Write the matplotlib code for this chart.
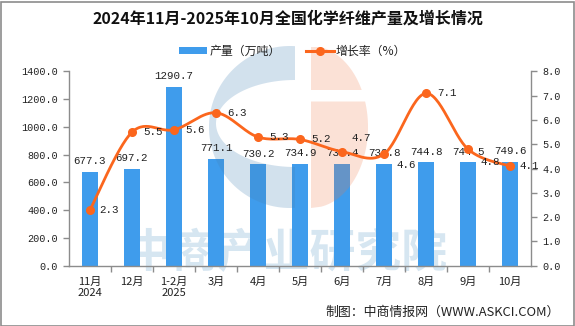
import numpy as np
import matplotlib
matplotlib.use("Agg")
import matplotlib.pyplot as plt
from matplotlib.patches import Polygon, Rectangle
from matplotlib.lines import Line2D
from matplotlib.ticker import FormatStrFormatter

plt.rcParams['font.family'] = ['Noto Sans CJK SC', 'DejaVu Sans']

# ---- data ----
months = ["11月\n2024", "12月", "1-2月\n2025", "3月", "4月", "5月",
          "6月", "7月", "8月", "9月", "10月"]
output_wt = [677.3, 697.2, 1290.7, 771.1, 730.2, 734.9, 736.4, 733.8, 744.8, 744.5, 749.6]
growth_pct = [2.3, 5.5, 5.6, 6.3, 5.3, 5.2, 4.7, 4.6, 7.1, 4.8, 4.1]

# label nudges for the growth-rate labels (points)
growth_label_offsets = [(7, 0), (8, 0), (8, 0), (8, 0), (8, 0), (8, 0),
                        (7, 10), (9, -8), (8, 0), (9, -9), (7, 0)]

W, H = 575, 326
BAR_C = "#3f9cec"
LINE_C = "#fb661d"
NUM_FONT = ['Liberation Mono', 'DejaVu Sans Mono']

fig = plt.figure(figsize=(W / 100, H / 100), dpi=100)
fig.patch.set_facecolor("white")

L, R, T, B = 69, 531, 71.5, 265.7
ax = fig.add_axes([L / W, 1 - B / H, (R - L) / W, (B - T) / H])
ax2 = ax.twinx()

x = np.arange(len(months))

# bars
ax.bar(x, output_wt, width=0.36, color=BAR_C, zorder=2)
for xi, v in zip(x, output_wt):
    ax.annotate(f"{v:.1f}", (xi, v), xytext=(0, 4), textcoords="offset points",
                ha="center", va="bottom", fontsize=7.8, family=NUM_FONT,
                color="#222222", zorder=5)

ax.set_xlim(-0.5, len(months) - 0.5)
ax.set_ylim(0, 1400)
ax.set_yticks(np.arange(0, 1401, 200))
ax.yaxis.set_major_formatter(FormatStrFormatter("%.1f"))
ax2.set_ylim(0, 8)
ax2.set_yticks(np.arange(0, 8.01, 1))
ax2.yaxis.set_major_formatter(FormatStrFormatter("%.1f"))

for a in (ax, ax2):
    a.spines["top"].set_visible(False)
    for s in ("left", "right", "bottom"):
        a.spines[s].set_color("#8c8c8c")
        a.spines[s].set_linewidth(1.0)
ax.spines["right"].set_visible(False)
ax2.spines["left"].set_visible(False)
ax2.spines["bottom"].set_visible(False)

ax.tick_params(axis="y", length=4, width=1, color="#8c8c8c", pad=4,
               labelsize=7.3, labelcolor="#222222")
ax2.tick_params(axis="y", length=4, width=1, color="#8c8c8c", pad=4,
                labelsize=7.3, labelcolor="#222222")
for lab in ax.get_yticklabels() + ax2.get_yticklabels():
    lab.set_family(NUM_FONT)

ax.set_xticks(x)
ax.set_xticklabels(months, fontsize=8, linespacing=1.1, color="#222222")
ax.tick_params(axis="x", which="major", length=0, pad=8)
ax.set_xticks(np.arange(0.5, len(months) - 1, 1), minor=True)
ax.tick_params(axis="x", which="minor", length=4, width=1, color="#8c8c8c")

# smooth growth-rate curve (Catmull-Rom through the data points)
def catmull_rom(xs, ys, n=30):
    xs = np.asarray(xs, float)
    ys = np.asarray(ys, float)
    px = np.concatenate([[xs[0]], xs, [xs[-1]]])
    py = np.concatenate([[ys[0]], ys, [ys[-1]]])
    outx, outy = [], []
    for i in range(1, len(px) - 2):
        mx0 = (px[i + 1] - px[i - 1]) / 2
        mx1 = (px[i + 2] - px[i]) / 2
        my0 = (py[i + 1] - py[i - 1]) / 2
        my1 = (py[i + 2] - py[i]) / 2
        t = np.linspace(0, 1, n, endpoint=(i == len(px) - 3))
        h00 = 2 * t**3 - 3 * t**2 + 1
        h10 = t**3 - 2 * t**2 + t
        h01 = -2 * t**3 + 3 * t**2
        h11 = t**3 - t**2
        outx.append(h00 * px[i] + h10 * mx0 + h01 * px[i + 1] + h11 * mx1)
        outy.append(h00 * py[i] + h10 * my0 + h01 * py[i + 1] + h11 * my1)
    return np.concatenate(outx), np.concatenate(outy)

sx, sy = catmull_rom(x, growth_pct)
ax2.plot(sx, sy, color=LINE_C, lw=2.0, zorder=3, solid_capstyle="round")
ax2.plot(x, growth_pct, "o", color=LINE_C, ms=5.5, zorder=4)
for xi, v, off in zip(x, growth_pct, growth_label_offsets):
    ax2.annotate(f"{v:.1f}", (xi, v), xytext=off, textcoords="offset points",
                 ha="left", va="center", fontsize=7.8, family=NUM_FONT,
                 color="#222222", zorder=6)

# ---- watermark: brand logo and name ----
px_tr = fig.dpi_scale_trans

def P(pts):
    pts = np.asarray(pts)
    return np.column_stack([pts[:, 0] / 100, (H - pts[:, 1]) / 100])

# blue "C"
cx, cy, r = 290, 127, 81
ang = np.linspace(np.deg2rad(86.5), np.deg2rad(273.5), 120)
outer = np.column_stack([cx + r * np.cos(ang), cy - r * np.sin(ang)])
ex, ey, erx, ery = 295, 123.5, 79, 43.5
ang2 = np.linspace(np.deg2rad(270), np.deg2rad(90), 120)
inner = np.column_stack([ex + erx * np.cos(ang2), ey - ery * np.sin(ang2)])
blue_poly = np.vstack([[[295, 46.5]], outer, [[295, 208]], inner])
ax.add_patch(Polygon(P(blue_poly), closed=True, transform=px_tr,
                     facecolor="#4682b4", alpha=0.24, edgecolor="none",
                     zorder=2.5, clip_on=False))

# orange half-ellipse split by a band
ocx, ocy, orx, ory = 311, 127, 57, 81
def half_ellipse(y0, y1):
    ys = np.linspace(y0, y1, 80)
    xs = ocx + orx * np.sqrt(np.clip(1 - ((ys - ocy) / ory) ** 2, 0, 1))
    pts = np.column_stack([xs, ys])
    return np.vstack([[[ocx, y0]], pts, [[ocx, y1]]])
for y0, y1 in ((47, 90), (101.5, 208)):
    ax.add_patch(Polygon(P(half_ellipse(y0, y1)), closed=True, transform=px_tr,
                         facecolor="#f07846", alpha=0.22, edgecolor="none",
                         zorder=2.5, clip_on=False))

ax.text(287 / 100, (H - 254) / 100, "中商产业研究院", transform=px_tr,
        ha="center", va="center", fontsize=33, fontweight="bold",
        color="#d6e6f1", zorder=0.5, clip_on=False)

# ---- title, legend, source ----
fig.text(0.5, 1 - 19 / H, "2024年11月-2025年10月全国化学纤维产量及增长情况",
         ha="center", va="center", fontsize=11.5, fontweight="bold", color="#111111")

fig.patches.append(Rectangle((179 / W, 1 - 54 / H), 28 / W, 7 / H,
                             transform=fig.transFigure, facecolor=BAR_C,
                             edgecolor="none"))
fig.text(210 / W, 1 - 51 / H, "产量（万吨）", ha="left", va="center",
         fontsize=8.6, color="#222222")
fig.lines.append(Line2D([306 / W, 334 / W], [1 - 51 / H, 1 - 51 / H],
                        transform=fig.transFigure, color=LINE_C, lw=2.2))
fig.lines.append(Line2D([320 / W], [1 - 51 / H], transform=fig.transFigure,
                        marker="o", ms=5.5, color=LINE_C))
fig.text(336 / W, 1 - 51 / H, "增长率（%）", ha="left", va="center",
         fontsize=8.6, color="#222222")

fig.text(560 / W, 1 - 312.5 / H, "制图：中商情报网（WWW.ASKCI.COM）",
         ha="right", va="center", fontsize=9.3, color="#222222")

# outer frame
fig.patches.append(Rectangle((0.5 / W, 0.5 / H), (W - 2) / W, (H - 2) / H,
                             transform=fig.transFigure, facecolor="none",
                             edgecolor="#8c8c8c", lw=1.2))

fig.savefig("out.png", dpi=100)
